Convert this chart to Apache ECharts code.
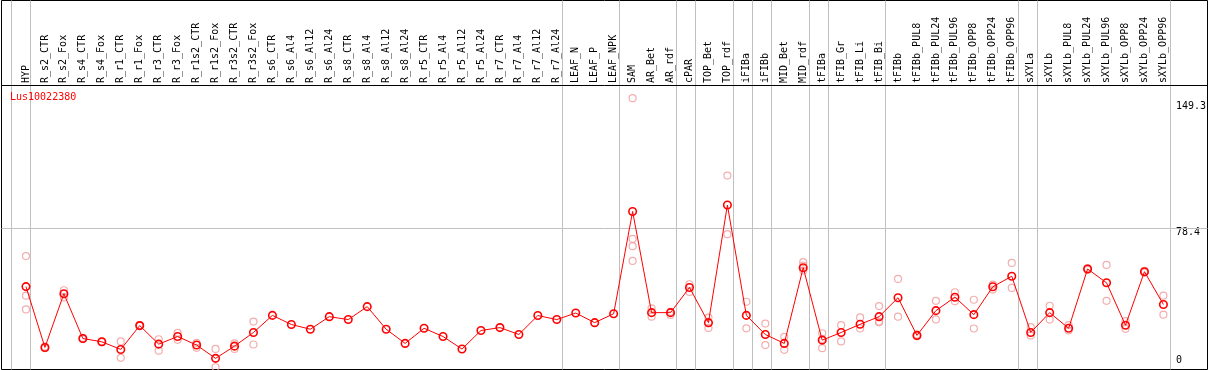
<!DOCTYPE html>
<html><head><meta charset="utf-8">
<script src="https://cdn.jsdelivr.net/npm/echarts@6/dist/echarts.min.js"></script>
<style>html,body{margin:0;padding:0;background:#fff}#c{width:1209px;height:370px}</style>
</head><body><div id="c"></div>
<script>
const geneName = 'Lus10022380';
const categories = ['HYP','R_s2_CTR','R_s2_Fox','R_s4_CTR','R_s4_Fox','R_r1_CTR','R_r1_Fox','R_r3_CTR','R_r3_Fox',
  'R_r1s2_CTR','R_r1s2_Fox','R_r3s2_CTR','R_r3s2_Fox','R_s6_CTR','R_s6_Al4','R_s6_Al12','R_s6_Al24',
  'R_s8_CTR','R_s8_Al4','R_s8_Al12','R_s8_Al24','R_r5_CTR','R_r5_Al4','R_r5_Al12','R_r5_Al24',
  'R_r7_CTR','R_r7_Al4','R_r7_Al12','R_r7_Al24','LEAF_N','LEAF_P','LEAF_NPK','SAM','AR_Bet','AR_rdf',
  'cPAR','TOP_Bet','TOP_rdf','iFIBa','iFIBb','MID_Bet','MID_rdf','tFIBa','tFIB_Gr','tFIB_Li','tFIB_Bi',
  'tFIBb','tFIBb_PUL8','tFIBb_PUL24','tFIBb_PUL96','tFIBb_OPP8','tFIBb_OPP24','tFIBb_OPP96',
  'sXYLa','sXYLb','sXYLb_PUL8','sXYLb_PUL24','sXYLb_PUL96','sXYLb_OPP8','sXYLb_OPP24','sXYLb_OPP96'];
const meanValues = [45.8,12.4,41.9,17.3,15.5,11.3,24.4,14.2,18.4,13.7,
  6.4,13.1,20.6,30.0,25.0,22.4,29.3,27.7,34.8,22.4,
  14.6,22.9,18.4,11.5,21.7,23.3,19.5,29.9,27.7,31.3,
  26.0,30.9,87.1,31.5,31.5,45.3,26.0,90.6,30.0,19.5,
  14.6,56.2,16.4,20.6,25.1,29.3,39.7,19.0,32.6,40.0,
  30.4,45.7,51.5,20.6,31.5,22.9,55.5,47.9,24.6,54.0,
  36.0];
const replicates = [[62.6,40.8,33.3],[12.0,12.8],[43.8,39.8],[17.0,17.6],[15.3,15.7],[15.7,6.7],[24.6,24.2],
  [16.9,10.6],[20.4,16.6],[14.9,12.2],[11.6,1.5],[11.6,14.6],[26.6,14.0],
  [],[],[],[],[],[],[],[],[],[],[],[],[],[],[],[],[],[],[],
  [149.3,72.0,68.0,59.9],[33.8,29.3],[32.0,30.2],[47.1,42.9],[28.8,23.1],[106.8,74.6],[37.5,22.9],
  [25.5,13.7],[18.2,11.1],[59.3,57.4,54.6],[20.2,12.0,17.0],[24.6,15.7],[28.9,22.8],[35.1,26.2,26.6],
  [50.0,29.3],[18.5,19.5],[38.0,27.8],[42.7,37.7],[38.6,22.8],[46.9,44.2],[58.8,45.1],
  [23.6,19.0],[35.3,27.7],[24.7,21.7],[55.0,56.0],[57.7,38.0],[26.9,22.6],[53.5,54.5],[40.8,30.4]];
const yLabelValues = [0, 78.4, 149.3];
const gridLineValues = [78.4];
const separatorsAfter = [-1,0,28,31,34,35,37,38,39,41,42,45,52,53,60];

const FONT = 'DejaVu Sans Mono';
const PX_PER_UNIT = 287 / 156.55;
const Y_MAX_A = 156.55;              // value at top of data grid (y=85)
const B_TOP_V = (372 - 0.5) / PX_PER_UNIT;
const B_BOT_V = (372 - 369.5) / PX_PER_UNIT;
const HEADER_V = (372 - 85.5) / PX_PER_UNIT;
const SEP_OFFSET = 4.5 / 19;

const repData = [];
replicates.forEach((arr, i) => arr.forEach(v => repData.push([categories[i], v])));

const chart = echarts.init(document.getElementById('c'), null, {renderer: 'canvas'});
chart.setOption({
  animation: false,
  backgroundColor: '#fff',
  title: {text: geneName, left: 10, top: 92, padding: 0,
    textStyle: {color: '#ff0000', fontFamily: FONT, fontSize: 10, fontWeight: 'normal'}},
  grid: [
    {left: 16.5, right: 33.5, top: 85, bottom: -2},
    {left: 1.5, right: 1.5, top: 0.5, bottom: 0.5, show: true, borderColor: '#000', borderWidth: 1, backgroundColor: 'transparent'}
  ],
  xAxis: [
    {type: 'category', gridIndex: 0, position: 'top', data: categories, boundaryGap: true,
     axisLine: {show: false}, axisTick: {show: false}, splitLine: {show: false},
     axisLabel: {interval: 0, rotate: 90, margin: 2, color: '#000', fontFamily: FONT, fontSize: 10}},
    {type: 'value', gridIndex: 1, min: -1.289474, max: 62.184211, show: false}
  ],
  yAxis: [
    {type: 'value', gridIndex: 0, min: 0, max: Y_MAX_A, position: 'right',
     axisLine: {show: false}, axisTick: {show: false}, splitLine: {show: false},
     axisLabel: {customValues: yLabelValues.filter(v => v > 0), margin: 3, verticalAlign: 'top', align: 'left',
       color: '#000', fontFamily: FONT, fontSize: 10,
       formatter: v => v === 149.3 ? '{t|' + v + '}' : '{m|' + v + '}',
       rich: {t: {padding: [3, 0, 0, 0], fontFamily: FONT, fontSize: 10, color: '#000'},
              m: {fontFamily: FONT, fontSize: 10, color: '#000'}}}},
    {type: 'value', gridIndex: 0, min: 0, max: Y_MAX_A, position: 'right',
     axisLine: {show: false}, axisTick: {show: false}, splitLine: {show: false},
     axisLabel: {customValues: yLabelValues.filter(v => v === 0), margin: 3, verticalAlign: 'bottom', align: 'left',
       color: '#000', fontFamily: FONT, fontSize: 10,
       formatter: v => '{z|' + v + '}',
       rich: {z: {padding: [0, 0, 5, 0], fontFamily: FONT, fontSize: 10, color: '#000'}}}},
    {type: 'value', gridIndex: 1, min: B_BOT_V, max: B_TOP_V, show: false}
  ],
  series: [
    {type: 'line', xAxisIndex: 1, yAxisIndex: 2, data: [], silent: true, z: 1,
     markLine: {silent: true, symbol: 'none', animation: false, label: {show: false},
       lineStyle: {color: '#c0c0c0', width: 1, type: 'solid'},
       data: separatorsAfter.map(i => ({xAxis: i + SEP_OFFSET}))
         .concat(gridLineValues.map(v => ({yAxis: v * 1})))
         .concat([{yAxis: HEADER_V, lineStyle: {color: '#000', width: 1, type: 'solid'}}])}},
    {type: 'scatter', xAxisIndex: 0, yAxisIndex: 0, data: repData, z: 3,
     symbol: 'circle', symbolSize: 7,
     itemStyle: {color: 'rgba(0,0,0,0)', borderColor: '#ef9a9a', borderWidth: 1.2}},
    {type: 'line', xAxisIndex: 0, yAxisIndex: 0, data: meanValues, z: 5,
     showAllSymbol: true, symbol: 'circle', symbolSize: 7.5,
     lineStyle: {color: '#ff0000', width: 1},
     itemStyle: {color: 'rgba(0,0,0,0)', borderColor: '#ff0000', borderWidth: 1.6}}
  ]
});
</script></body></html>
